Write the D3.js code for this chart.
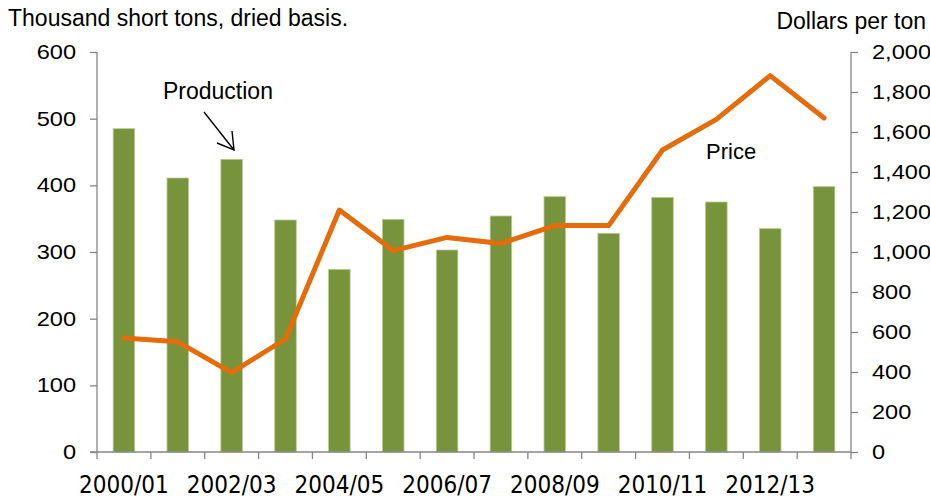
<!DOCTYPE html>
<html>
<head>
<meta charset="utf-8">
<script src="https://cdn.jsdelivr.net/npm/d3@7"></script>
<style>
  body { margin: 0; background: #fff; }
  svg { display: block; }
</style>
</head>
<body>
<svg id="chart"></svg>
<script>
// Marketing years
const years = ['2000/01', '2001/02', '2002/03', '2003/04', '2004/05', '2005/06', '2006/07',
  '2007/08', '2008/09', '2009/10', '2010/11', '2011/12', '2012/13', '2013/14'];
// Production, thousand short tons (dried basis)
const production = [485, 411, 439, 348, 274, 349, 303, 354, 383, 328, 382, 375, 335, 398];
// Price, dollars per ton
const price = [570, 551, 397, 565, 1210, 1007, 1073, 1043, 1132, 1132, 1510, 1663, 1882, 1670];
const leftTicks = [0, 100, 200, 300, 400, 500, 600];
const rightTicks = [0, 200, 400, 600, 800, 1000, 1200, 1400, 1600, 1800, 2000];

const width = 930;
const height = 500;
const plotLeft = 97, plotRight = 851, plotTop = 52, plotBottom = 452;

const svg = d3.select('#chart').attr('width', width).attr('height', height);

const x = d3.scaleBand().domain(years).range([plotLeft, plotRight])
  .paddingInner(0.6).paddingOuter(0.3);
const yL = d3.scaleLinear().domain([0, 600]).range([plotBottom, plotTop]);
const yR = d3.scaleLinear().domain([0, 2000]).range([plotBottom, plotTop]);
const step = x.step();

const axisColor = '#868686';
const labelFont = 'Arial, "Liberation Sans", sans-serif';

// Bars
svg.append('g').selectAll('rect')
  .data(years)
  .join('rect')
  .attr('x', d => x(d))
  .attr('y', (d, i) => yL(production[i]))
  .attr('width', x.bandwidth())
  .attr('height', (d, i) => yL(0) - yL(production[i]))
  .attr('fill', '#77933C')
  .attr('stroke', '#b9cc94')
  .attr('stroke-width', 0.8);

// Left axis
const left = svg.append('g').attr('transform', `translate(${plotLeft},0)`)
  .call(d3.axisLeft(yL).tickValues(leftTicks).tickSize(7).tickPadding(14).tickFormat(d3.format('d')));
// Right axis
const right = svg.append('g').attr('transform', `translate(${plotRight},0)`)
  .call(d3.axisRight(yR).tickValues(rightTicks).tickSize(7).tickPadding(14).tickFormat(d3.format(',')));

[left, right].forEach(g => {
  g.select('.domain').attr('stroke', axisColor).attr('stroke-width', 1.3)
    .attr('d', `M0,${plotTop}V${plotBottom}`);
  g.selectAll('.tick line').attr('stroke', axisColor).attr('stroke-width', 1.3);
  // tick labels in the reference are a slightly widened Arial
  g.selectAll('.tick text')
    .attr('fill', '#000')
    .style('font-family', labelFont)
    .style('font-size', '20px')
    .attr('transform', function() {
      const x0 = +d3.select(this).attr('x');
      return `translate(${x0},0) scale(1.18,1) translate(${-x0},0)`;
    });
});

// Bottom axis: ticks on category boundaries, labels every other year
const boundaries = d3.range(years.length + 1).map(i => plotLeft + i * step);
const bottom = svg.append('g');
bottom.append('line')
  .attr('x1', plotLeft - 7).attr('x2', plotRight)
  .attr('y1', plotBottom).attr('y2', plotBottom)
  .attr('stroke', axisColor).attr('stroke-width', 1.3);
bottom.selectAll('line.b')
  .data(boundaries)
  .join('line')
  .attr('class', 'b')
  .attr('x1', d => d).attr('x2', d => d)
  .attr('y1', plotBottom).attr('y2', plotBottom + 7)
  .attr('stroke', axisColor).attr('stroke-width', 1.3);
bottom.selectAll('text')
  .data(years.filter((d, i) => i % 2 === 0))
  .join('text')
  .attr('x', d => x(d) + x.bandwidth() / 2)
  .attr('y', 493)
  .attr('text-anchor', 'middle')
  .style('font-family', '"DejaVu Sans Condensed", "DejaVu Sans", sans-serif')
  .style('font-stretch', 'condensed')
  .style('font-size', '24px')
  .attr('fill', '#000')
  .text(d => d);

// Price line
const line = d3.line()
  .x((d, i) => x(years[i]) + x.bandwidth() / 2)
  .y(d => yR(d));
svg.append('path')
  .datum(price)
  .attr('d', line)
  .attr('fill', 'none')
  .attr('stroke', '#E46C0A')
  .attr('stroke-width', 5)
  .attr('stroke-linejoin', 'round')
  .attr('stroke-linecap', 'round');

// Axis titles
svg.append('text')
  .attr('x', 8).attr('y', 26)
  .style('font-family', labelFont).style('font-size', '23px')
  .text('Thousand short tons, dried basis.');
svg.append('text')
  .attr('x', 926).attr('y', 29)
  .attr('text-anchor', 'end')
  .style('font-family', labelFont).style('font-size', '23px')
  .text('Dollars per ton');

// Annotations
svg.append('text')
  .attr('x', 163).attr('y', 99)
  .style('font-family', labelFont).style('font-size', '23px')
  .text('Production');
svg.append('text')
  .attr('x', 706).attr('y', 159)
  .style('font-family', labelFont).style('font-size', '22px')
  .text('Price');

// Arrow pointing at the 2002/03 bar
const arrow = svg.append('g').attr('stroke', '#000').attr('stroke-width', 1.4).attr('fill', 'none');
arrow.append('line').attr('x1', 204).attr('y1', 112).attr('x2', 234).attr('y2', 150);
arrow.append('path').attr('d', 'M217,143 L234,150 L232,131');
</script>
</body>
</html>
